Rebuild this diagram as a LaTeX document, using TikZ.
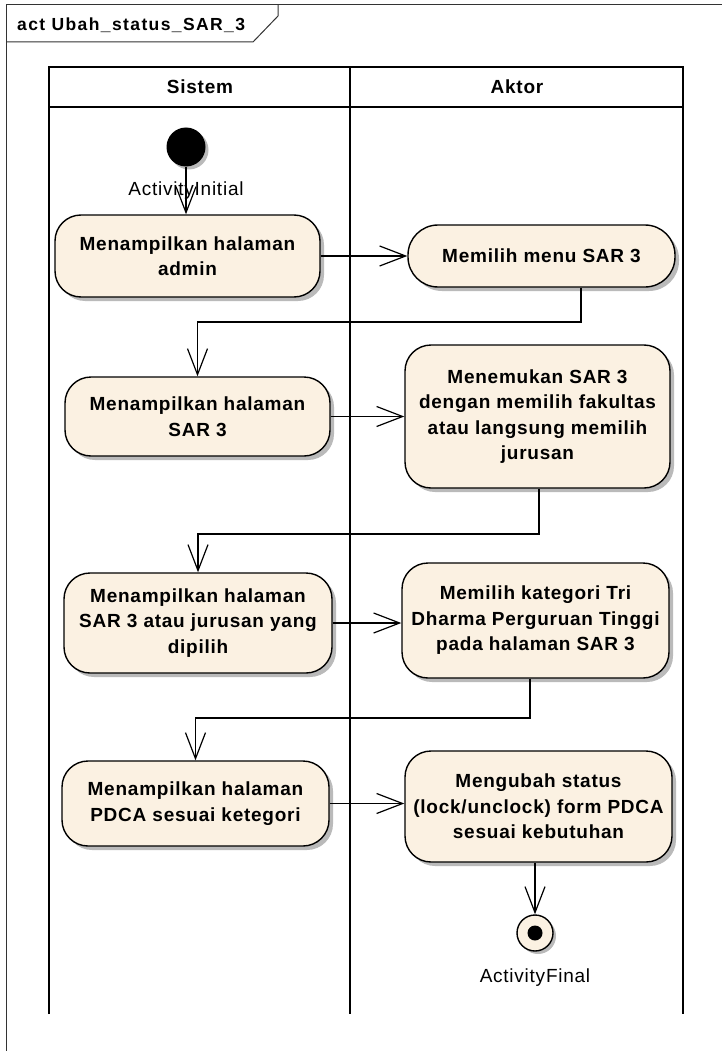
\documentclass[tikz,border=0pt]{standalone}
\usepackage{fontspec}
\setmainfont{Liberation Sans}
\newfontfamily\lsans[LetterSpace=4]{Liberation Sans}
\newfontfamily\tsans[LetterSpace=8]{Liberation Sans}
\usetikzlibrary{arrows.meta,shadows,calc}
\definecolor{actfill}{RGB}{251,241,226}
\newcommand\actfont{\lsans\bfseries\fontsize{19}{25.5}\selectfont}
\newcommand\lblfont{\lsans\fontsize{19}{22}\selectfont}
\begin{document}
\begin{tikzpicture}[x=1pt,y=-1pt,
  act/.style={draw, line width=1.4pt, fill=actfill, rounded corners=26pt, align=center,
    font=\actfont, inner sep=0pt,
    drop shadow={shadow xshift=4pt, shadow yshift=-4pt, fill=black!27, opacity=1}},
  flow/.style={line width=1.2pt, -{Straight Barb[length=26pt,width=20pt,line width=1.2pt]}},
  lane/.style={line width=1.8pt},
  framel/.style={line width=1pt, draw=black!80},
  lbl/.style={font=\lblfont, inner sep=0pt},
  hdr/.style={font=\actfont, inner sep=0pt},
]
\useasboundingbox (0,0) rectangle (722,1051);
% frame
\draw[framel] (722,5) -- (6,5) -- (6,1051);
\draw[framel] (278,5) -- (278,16) -- (253,42) -- (6,42);
\node[anchor=west, inner sep=0pt, font=\tsans\bfseries\fontsize{17.5}{20}\selectfont] (title) at (17,25) {act Ubah\_status\_SAR\_3};
% swimlanes
\draw[lane] (49,1014) -- (49,67) -- (683,67) -- (683,1014);
\draw[lane] (350,67) -- (350,1014);
\draw[lane] (49,107) -- (683,107);
\node[hdr] (hs) at (200,87) {Sistem};
\node[hdr] (ha) at (517,87) {Aktor};
% initial
\node[circle, fill=black, minimum size=39pt, inner sep=0pt,
  drop shadow={shadow xshift=3pt, shadow yshift=-3pt, fill=black!27, opacity=1}] (init) at (186,147) {};
% activities
\node[act, minimum width=265pt, minimum height=82pt] (n1) at (187.5,256) {Menampilkan halaman\\admin};
\node[act, minimum width=267pt, minimum height=62pt, rounded corners=30pt] (n2) at (541.5,256) {Memilih menu SAR 3};
\node[act, minimum width=265pt, minimum height=79pt] (n3) at (197.5,416.5) {Menampilkan halaman\\SAR 3};
\node[act, minimum width=265pt, minimum height=143pt] (n4) at (537.5,416.5) {Menemukan SAR 3\\dengan memilih fakultas\\atau langsung memilih\\jurusan};
\node[act, minimum width=268pt, minimum height=100pt] (n5) at (198,623) {Menampilkan halaman\\SAR 3 atau jurusan yang\\dipilih};
\node[act, minimum width=267pt, minimum height=115pt] (n6) at (535.5,620.5) {Memilih kategori Tri\\Dharma Perguruan Tinggi\\pada halaman SAR 3};
\node[act, minimum width=267pt, minimum height=85pt] (n7) at (195.5,803.5) {Menampilkan halaman\\PDCA sesuai ketegori};
\node[act, minimum width=267pt, minimum height=111pt] (n8) at (538.5,806.5) {Mengubah status\\(lock/unclock) form PDCA\\sesuai kebutuhan};
% final
\node[circle, draw, line width=1.4pt, fill=actfill, minimum size=36pt, inner sep=0pt,
  drop shadow={shadow xshift=3pt, shadow yshift=-3pt, fill=black!27, opacity=1}] (fin) at (535,933) {};
\node[circle, fill=black, minimum size=15pt, inner sep=0pt] (findot) at (fin.center) {};
% connectors
\draw[flow] (init.south) -- (n1.north -| init.south);
\draw[flow] (n1.east) -- (n1.east -| n2.west);
\coordinate (j1) at (581,322);
\draw[flow] (n2.south -| j1) -- (j1) -| (n3.north);
\draw[flow] (n3.east) -- (n3.east -| n4.west);
\coordinate (j2) at (539,534);
\draw[flow] (n4.south -| j2) -- (j2) -| (n5.north);
\draw[flow] (n5.east) -- (n5.east -| n6.west);
\coordinate (j3) at (530,718);
\draw[flow] (n6.south -| j3) -- (j3) -| (n7.north);
\draw[flow] (n7.east) -- (n7.east -| n8.west);
\draw[flow] (n8.south -| fin.north) -- (fin.north);
% labels
\node[lbl] (linit) at (186,191) {ActivityInitial};
\node[lbl] (lfin) at (535,978) {ActivityFinal};
\end{tikzpicture}
\end{document}
